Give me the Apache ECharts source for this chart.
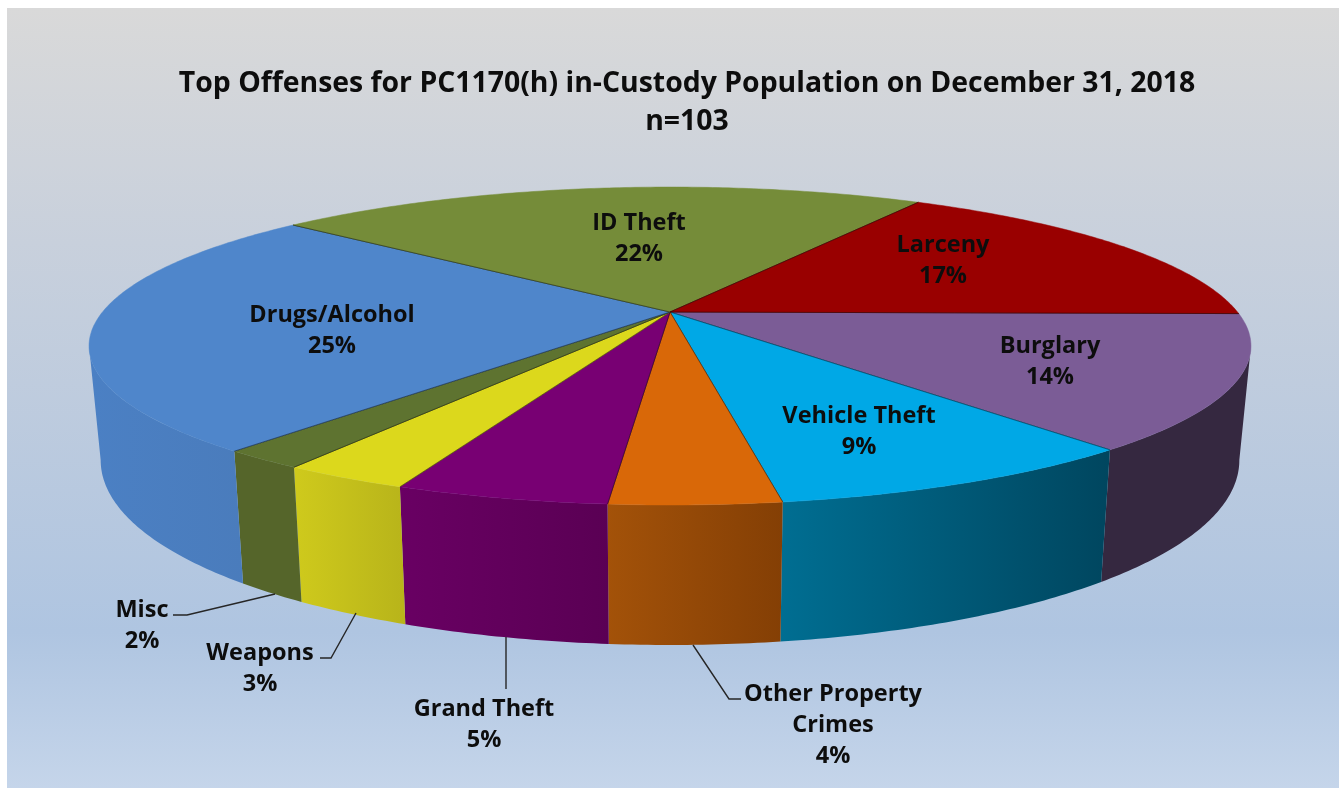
<!DOCTYPE html>
<html>
<head>
<meta charset="utf-8">
<style>
  html, body { margin: 0; padding: 0; background: #fff; }
  #chart { width: 1341px; height: 788px; }
</style>
<script src="https://cdn.jsdelivr.net/npm/echarts@6/dist/echarts.min.js"></script>
</head>
<body>
<div id="chart"></div>
<script>
// data, clockwise from the 3 o'clock position (n=103)
const categories = ['Burglary', 'Vehicle Theft', 'Other Property\nCrimes', 'Grand Theft', 'Weapons', 'Misc', 'Drugs/Alcohol', 'ID Theft', 'Larceny'];
const counts = [14, 9, 4, 5, 3, 2, 26, 23, 17];
const percentLabels = ['14%', '9%', '4%', '5%', '3%', '2%', '25%', '22%', '17%'];

// slice colours
const topColors = ['#7b5c96', '#00a8e6', '#d96808', '#780073', '#dcd81c', '#5e7330', '#4f86cb', '#758c39', '#990000'];
const wallLeft = ['#352840', '#006e92', '#a35209', '#690063', '#cfca1c', '#55652a', '#4b80c4', '#758c39', '#990000'];
const wallRight = ['#352840', '#00465f', '#843f05', '#5a0054', '#b8b41a', '#55652a', '#4a7cbc', '#758c39', '#990000'];

// label layout: centre of the text block, then optional leader line
const labelCenter = [[1050, 362], [859, 432], [833, 725], [484, 725], [260, 669], [142, 626], [332, 331], [639, 239], [943, 261]];
const leaders = {
  2: [[693, 645], [729, 699], [741, 699]],
  3: [[506, 637], [506, 689]],
  4: [[356, 613], [331, 658], [320, 658]],
  5: [[275, 594], [187, 615], [173, 615]]
};

// perspective disc: fitted to the picture
const cx = 670, cy = 312, R = 567.5, H = 151.7, k = 0.214;
const startDeg = 0.6;
const total = counts.reduce((a, b) => a + b, 0);
const font = '"Open Sans", sans-serif';

function topPoint(a) {
  const c = Math.cos(a), s = Math.sin(a), w = 1 - k * s;
  return [cx + R * c / w, cy + H * s / w];
}
function bottomPoint(a) {
  const p = topPoint(a);
  return [cx + (p[0] - cx) * 0.98, p[1] + 107 + 33 * Math.sin(a)];
}
function sliceAngles(i) {
  let before = 0;
  for (let j = 0; j < i; j++) before += counts[j];
  const a0 = startDeg * Math.PI / 180 + before / total * Math.PI * 2;
  return [a0, a0 + counts[i] / total * Math.PI * 2];
}
function arc(a0, a1, fn) {
  const n = Math.max(2, Math.ceil((a1 - a0) * 90));
  const pts = [];
  for (let i = 0; i <= n; i++) pts.push(fn(a0 + (a1 - a0) * i / n));
  return pts;
}

function renderWall(params) {
  const i = params.dataIndex;
  const [a0, a1] = sliceAngles(i);
  // the wall is only seen between the two widest points of the rim
  const edge = Math.asin(k);
  const from = Math.max(a0, edge), to = Math.min(a1, Math.PI - edge);
  if (to <= from) return null;
  const pts = arc(from, to, topPoint).concat(arc(from, to, bottomPoint).reverse());
  // going clockwise from 3 o'clock the wall runs right to left on screen
  const fill = new echarts.graphic.LinearGradient(0, 0, 1, 0, [
    { offset: 0, color: wallLeft[i] },
    { offset: 1, color: wallRight[i] }
  ]);
  return { type: 'polygon', shape: { points: pts }, style: { fill: fill } };
}

function renderTop(params) {
  const i = params.dataIndex;
  const [a0, a1] = sliceAngles(i);
  const rim = arc(a0, a1, topPoint);
  return {
    type: 'group',
    children: [
      {
        type: 'polygon',
        shape: { points: [[cx, cy]].concat(rim) },
        style: { fill: topColors[i], stroke: topColors[i], lineWidth: 0.5 }
      },
      {
        type: 'polyline',
        shape: { points: [rim[0], [cx, cy], rim[rim.length - 1]] },
        style: { fill: null, stroke: 'rgba(0,0,0,0.4)', lineWidth: 1 }
      }
    ]
  };
}

function renderLabel(params) {
  const i = params.dataIndex;
  const children = [{
    type: 'text',
    style: {
      x: labelCenter[i][0],
      y: labelCenter[i][1],
      text: categories[i] + '\n' + percentLabels[i],
      fill: '#0d0d0d',
      font: 'bold 23.5px ' + font,
      lineHeight: 31,
      align: 'center',
      verticalAlign: 'middle'
    }
  }];
  if (leaders[i]) {
    children.push({
      type: 'polyline',
      shape: { points: leaders[i] },
      style: { fill: null, stroke: '#262626', lineWidth: 1.4 }
    });
  }
  return { type: 'group', children: children };
}

const myChart = echarts.init(document.getElementById('chart'));
myChart.setOption({
  backgroundColor: '#ffffff',
  animation: false,
  title: {
    text: 'Top Offenses for PC1170(h) in-Custody Population on December 31, 2018\nn=103',
    left: 682,
    top: 60,
    textAlign: 'center',
    textStyle: { color: '#0d0d0d', fontFamily: font, fontWeight: 'bold', fontSize: 28.4, lineHeight: 38 }
  },
  graphic: [{
    type: 'rect',
    z: -10,
    shape: { x: 7, y: 8, width: 1332, height: 780 },
    style: {
      fill: new echarts.graphic.LinearGradient(0, 0, 0, 1, [
        { offset: 0, color: '#d9d9d9' },
        { offset: 0.3, color: '#c8d0dc' },
        { offset: 0.8, color: '#afc5e1' },
        { offset: 1, color: '#c5d5ea' }
      ])
    }
  }],
  series: [
    { type: 'custom', name: 'walls', coordinateSystem: 'none', renderItem: renderWall, data: counts, z: 2, silent: true },
    { type: 'custom', name: 'tops', coordinateSystem: 'none', renderItem: renderTop, data: counts, z: 3, silent: true },
    { type: 'custom', name: 'labels', coordinateSystem: 'none', renderItem: renderLabel, data: counts, z: 4, silent: true }
  ]
});
</script>
</body>
</html>
